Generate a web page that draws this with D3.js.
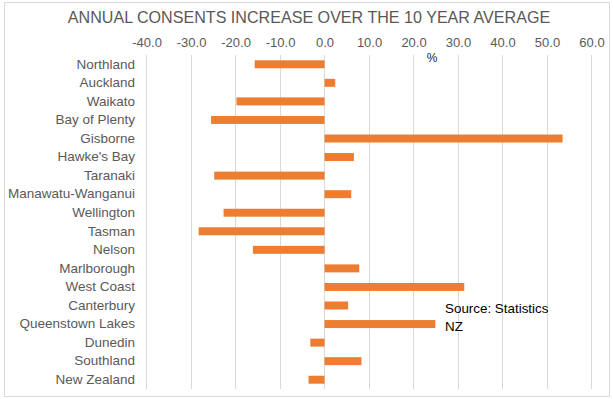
<!DOCTYPE html>
<html lang="en">
<head>
    <meta charset="UTF-8">
    <script src="https://cdn.jsdelivr.net/npm/d3@7"></script>
    <style>
        body { margin: 0; background: #fff; }
        svg { font-family: "Liberation Sans", Arial, sans-serif; }
    </style>
</head>
<body>
    <svg id="chart" width="613" height="399"></svg>
    <script>
        // data
        let regions = ["Northland", "Auckland", "Waikato", "Bay of Plenty", "Gisborne", "Hawke's Bay",
            "Taranaki", "Manawatu-Wanganui", "Wellington", "Tasman", "Nelson", "Marlborough",
            "West Coast", "Canterbury", "Queenstown Lakes", "Dunedin", "Southland", "New Zealand"];
        let increase = [-15.7, 2.4, -19.8, -25.5, 53.5, 6.6, -24.8, 6.0, -22.7, -28.3, -16.1, 7.8,
            31.4, 5.3, 24.9, -3.2, 8.3, -3.6];
        let tickValues = [-40, -30, -20, -10, 0, 10, 20, 30, 40, 50, 60];

        let svg = d3.select("#chart");

        // outer border
        svg.append("rect")
            .attr("x", 4.5).attr("y", 2.5)
            .attr("width", 605).attr("height", 394)
            .attr("fill", "white")
            .attr("stroke", "#d9d9d9");

        let x = d3.scaleLinear().domain([-40, 60]).range([146.6, 591.5]);
        let y = d3.scaleBand().domain(regions).range([55, 389]).paddingInner(0.57).paddingOuter(0.285);

        // gridlines
        svg.append("g")
            .selectAll("line")
            .data(tickValues)
            .join("line")
            .attr("x1", d => x(d)).attr("x2", d => x(d))
            .attr("y1", 55).attr("y2", 389)
            .attr("stroke", "#d9d9d9")
            .attr("stroke-width", 1)
            .attr("shape-rendering", "crispEdges");

        // top axis, plain hyphen for negatives like the original
        let xAxis = svg.append("g")
            .attr("transform", "translate(0,47)")
            .call(d3.axisTop(x).tickValues(tickValues).tickFormat(d => d.toFixed(1)).tickSize(0).tickPadding(0));
        xAxis.select(".domain").remove();
        xAxis.selectAll("text")
            .attr("font-size", 13)
            .attr("font-family", "Liberation Sans, Arial, sans-serif")
            .attr("fill", "#595959");

        // bars
        svg.append("g")
            .selectAll("rect")
            .data(regions)
            .join("rect")
            .attr("x", (d, i) => x(Math.min(0, increase[i])))
            .attr("width", (d, i) => Math.abs(x(increase[i]) - x(0)))
            .attr("y", d => y(d))
            .attr("height", y.bandwidth())
            .attr("fill", "#ED7D31");

        // category labels
        let yAxis = svg.append("g")
            .attr("transform", "translate(135,0)")
            .call(d3.axisLeft(y).tickSize(0).tickPadding(0));
        yAxis.select(".domain").remove();
        yAxis.selectAll("text")
            .attr("font-size", 13.5)
            .attr("font-family", "Liberation Sans, Arial, sans-serif")
            .attr("fill", "#595959");

        // title
        svg.append("text")
            .attr("x", 309).attr("y", 23)
            .attr("text-anchor", "middle")
            .attr("font-size", 16.1)
            .attr("fill", "#595959")
            .text("ANNUAL CONSENTS INCREASE OVER THE 10 YEAR AVERAGE");

        // axis unit
        svg.append("text")
            .attr("x", 432).attr("y", 62)
            .attr("text-anchor", "middle")
            .attr("font-size", 12)
            .attr("fill", "#262626")
            .text("%");

        // source note
        let source = svg.append("text")
            .attr("x", 445).attr("y", 313)
            .attr("font-size", 13.4)
            .attr("fill", "black");
        source.append("tspan").attr("x", 445).text("Source: Statistics");
        source.append("tspan").attr("x", 445).attr("dy", 18).text("NZ");
    </script>
</body>
</html>
